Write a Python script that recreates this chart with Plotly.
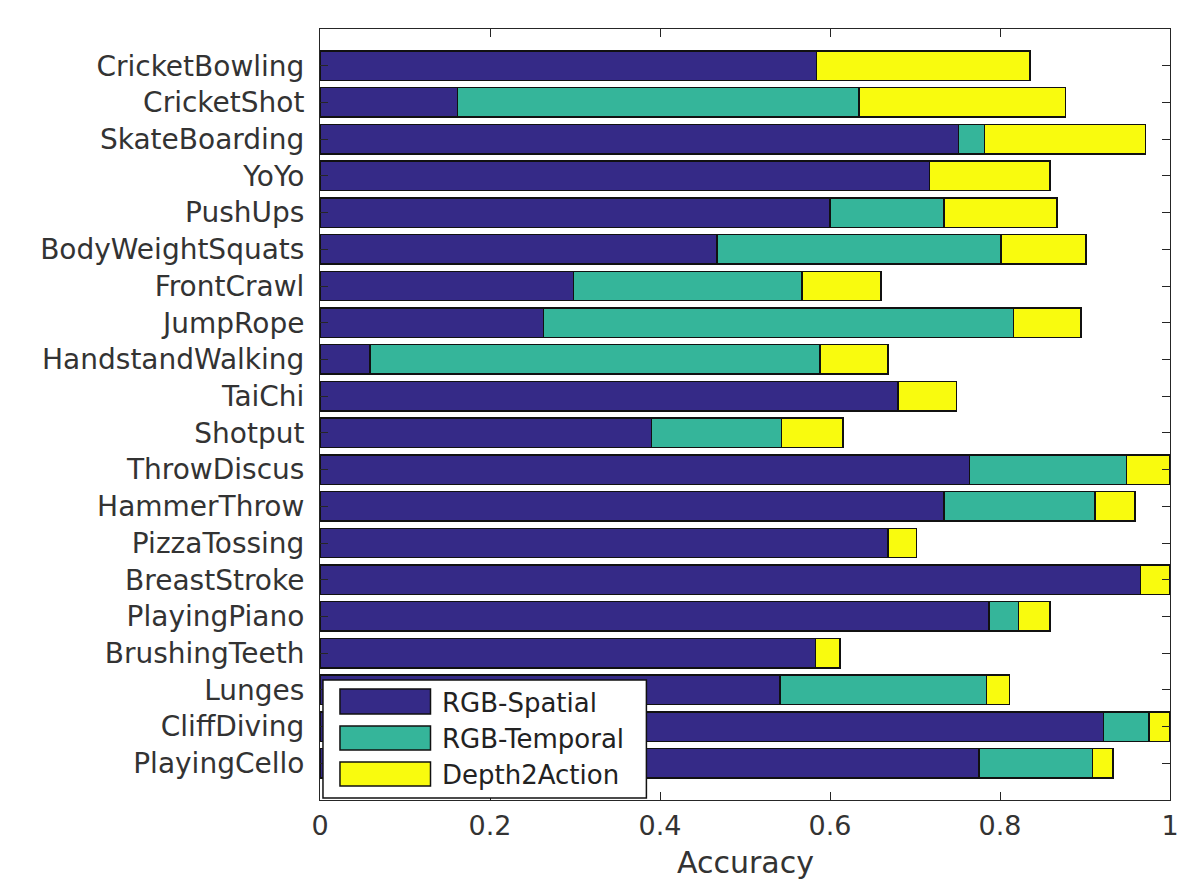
import plotly.graph_objects as go

categories = ["CricketBowling", "CricketShot", "SkateBoarding", "YoYo", "PushUps",
              "BodyWeightSquats", "FrontCrawl", "JumpRope", "HandstandWalking", "TaiChi",
              "Shotput", "ThrowDiscus", "HammerThrow", "PizzaTossing", "BreastStroke",
              "PlayingPiano", "BrushingTeeth", "Lunges", "CliffDiving", "PlayingCello"]

rgb_spatial = [0.584, 0.162, 0.751, 0.717, 0.600, 0.467, 0.298, 0.263, 0.059, 0.680,
               0.390, 0.764, 0.734, 0.668, 0.965, 0.787, 0.583, 0.541, 0.922, 0.775]
rgb_temporal = [0.000, 0.472, 0.031, 0.000, 0.134, 0.334, 0.269, 0.553, 0.529, 0.000,
                0.153, 0.185, 0.178, 0.000, 0.000, 0.035, 0.000, 0.243, 0.053, 0.134]
depth2action = [0.251, 0.243, 0.189, 0.142, 0.133, 0.100, 0.093, 0.079, 0.080, 0.069,
                0.072, 0.051, 0.047, 0.034, 0.035, 0.037, 0.029, 0.027, 0.025, 0.024]

series_names = ["RGB-Spatial", "RGB-Temporal", "Depth2Action"]
series_values = [rgb_spatial, rgb_temporal, depth2action]
colors = ["#352A87", "#35B59A", "#F9FB0E"]

x_ticks = [0, 0.2, 0.4, 0.6, 0.8, 1]
x_tick_text = ["0", "0.2", "0.4", "0.6", "0.8", "1"]
x_title = "Accuracy"

FONT = "DejaVu Sans"
TXT = "#333333"

fig = go.Figure()
for name, vals, col in zip(series_names, series_values, colors):
    fig.add_trace(go.Bar(
        y=categories, x=vals, name=name, orientation="h",
        marker=dict(color=col, line=dict(color="#111111", width=1.5)),
        showlegend=False,
    ))

fig.update_layout(
    width=1178, height=882,
    margin=dict(l=320, r=8, t=29, b=82),
    paper_bgcolor="white", plot_bgcolor="white",
    barmode="stack", bargap=0.2,
    font=dict(family=FONT, size=28, color=TXT),
)
fig.update_xaxes(
    range=[0, 1], tickvals=x_ticks, ticktext=x_tick_text,
    ticks="inside", ticklen=8, tickcolor="#262626", tickwidth=1,
    showline=True, linecolor="#262626", linewidth=1, mirror="ticks",
    showgrid=False, zeroline=False, automargin=False,
    tickfont=dict(size=27, color=TXT), ticklabelstandoff=2,
    ticklabeloverflow="allow",
)
fig.update_yaxes(
    categoryorder="array", categoryarray=categories,
    range=[len(categories), -1],
    ticks="inside", ticklen=8, tickcolor="#262626", tickwidth=1,
    showline=True, linecolor="#262626", linewidth=1, mirror="ticks",
    showgrid=False, zeroline=False, automargin=False,
    tickfont=dict(size=28, color=TXT), ticklabelstandoff=9,
)

# x-axis title, placed low near the bottom edge as in the original
fig.add_annotation(xref="x domain", yref="y domain", x=0.5, y=-0.081,
                   text=x_title, showarrow=False, xanchor="center", yanchor="middle",
                   font=dict(family=FONT, size=30, color=TXT))

# custom legend (box + large swatches), drawn in axis-domain coordinates
fig.add_shape(type="rect", xref="x domain", yref="y domain",
              x0=0.0035, x1=0.384, y0=0.0026, y1=0.1556,
              fillcolor="white", line=dict(color="#111111", width=1.5), layer="above")
rows = [(0.1115, 0.144, 0.1258), (0.0649, 0.096, 0.0791), (0.0182, 0.0493, 0.0324)]
for (y0, y1, yc), name, col in zip(rows, series_names, colors):
    fig.add_shape(type="rect", xref="x domain", yref="y domain",
                  x0=0.0235, x1=0.13, y0=y0, y1=y1,
                  fillcolor=col, line=dict(color="#111111", width=1.5), layer="above")
    fig.add_annotation(xref="x domain", yref="y domain", x=0.141, y=yc,
                       text=name, showarrow=False, xanchor="left", yanchor="middle",
                       font=dict(family=FONT, size=26, color="#222222"))

fig.write_html("out.html", config={"displayModeBar": False},
               post_script="document.body.style.margin='0px';")
